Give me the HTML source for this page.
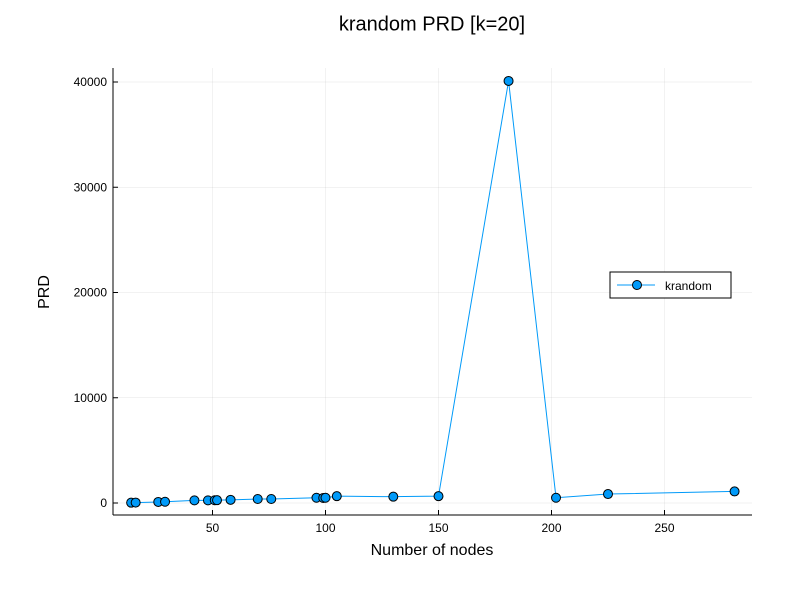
<!DOCTYPE html>
<html><head><meta charset="utf-8"><style>
body{margin:0;background:#fff;}
svg text{font-family:"Liberation Sans",sans-serif;}
</style></head><body>
<svg id="chart" width="800" height="600" xmlns="http://www.w3.org/2000/svg">
<rect width="800" height="600" fill="#fff"/>
<text x="432" y="17" font-size="20" text-anchor="middle" dominant-baseline="hanging">krandom PRD [k=20]</text>
<g id="grid"></g>
<g id="axes"></g>
<g id="series"></g>
<text x="432" y="555" font-size="16" text-anchor="middle">Number of nodes</text>
<text x="49" y="292" font-size="16" text-anchor="middle" transform="rotate(-90 49 292)">PRD</text>
<g>
<rect x="610" y="272" width="121" height="26" fill="#fff" stroke="#000" stroke-width="1"/>
<line x1="617" y1="285" x2="655" y2="285" stroke="#009af9" stroke-width="1"/>
<circle cx="637" cy="285" r="4.5" fill="#009af9" stroke="#000" stroke-width="1"/>
<text x="665" y="290" font-size="12">krandom</text>
</g>
</svg>
<script>
const xs=[14,16,26,29,42,48,51,52,58,70,76,96,99,100,105,130,150,181,202,225,281];
const ys=[30,40,100,120,250,250,260,270,300,380,380,500,480,500,650,600,650,40100,500,850,1100];
const xTicks=[50,100,150,200,250];
const yTicks=[0,10000,20000,30000,40000];
const L=113,R=752,T=68,B=515;
const sx=v=>99.5+v*2.26;
const sy=v=>503-v*0.010525;
const NS="http://www.w3.org/2000/svg";
function mk(t,a,p){const e=document.createElementNS(NS,t);for(const k in a)e.setAttribute(k,a[k]);p.appendChild(e);return e;}
const grid=document.getElementById('grid'),axes=document.getElementById('axes'),ser=document.getElementById('series');
xTicks.forEach(v=>{
 const g=mk('line',{x1:sx(v),x2:sx(v),y1:T,y2:B,stroke:'#000','stroke-opacity':0.1,'stroke-width':0.5},grid);
 
 
 mk('line',{x1:sx(v),x2:sx(v),y1:B,y2:B-5,stroke:'#000'},axes);
 const t=mk('text',{x:sx(v),y:B+17,'font-size':12,'text-anchor':'middle'},axes);t.textContent=v;
 
 
});
yTicks.forEach(v=>{
 const g=mk('line',{x1:L,x2:R,y1:sy(v),y2:sy(v),stroke:'#000','stroke-opacity':0.1,'stroke-width':0.5},grid);
 
 
 mk('line',{x1:L,x2:L+5,y1:sy(v),y2:sy(v),stroke:'#000'},axes);
 const t=mk('text',{x:L-6,y:sy(v)+4,'font-size':12,'text-anchor':'end'},axes);t.textContent=v;
 
 
});
mk('line',{x1:L,x2:R,y1:B,y2:B,stroke:'#000'},axes);
mk('line',{x1:L,x2:L,y1:T,y2:B,stroke:'#000'},axes);
const pl=mk('polyline',{points:xs.map((x,i)=>sx(x)+','+sy(ys[i])).join(' '),fill:'none',stroke:'#009af9','stroke-width':1},ser);


xs.forEach((x,i)=>{
 const c=mk('circle',{cx:sx(x),cy:sy(ys[i]),r:4.5,fill:'#009af9',stroke:'#000','stroke-width':1},ser);
 
 
});
</script>
</body></html>
